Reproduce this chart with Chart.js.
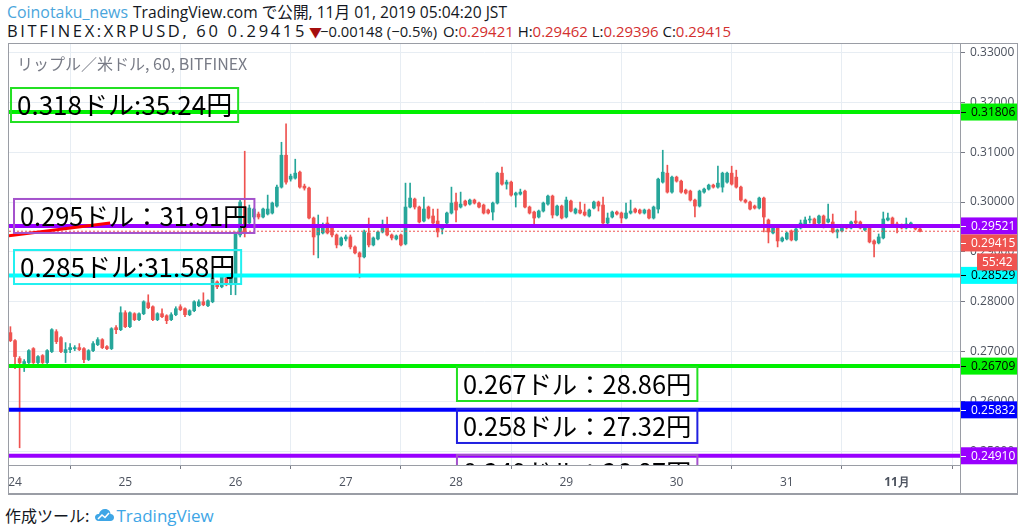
<!DOCTYPE html>
<html lang="ja">
<head>
<meta charset="utf-8">
<title>リップル／米ドル, 60, BITFINEX</title>
<script src="https://cdn.jsdelivr.net/npm/chart.js@4.4.1/dist/chart.umd.min.js"></script>
<style>
  html, body { margin: 0; padding: 0; background: #fff; }
  body { width: 1024px; height: 530px; position: relative; overflow: hidden;
         font-family: "Open Sans", "Noto Sans CJK JP", sans-serif; color: #131722; }
  .hd { position: absolute; white-space: nowrap; line-height: 18px; font-size: 15px; }
  .l1 { top: 3px; }
  .l2 { top: 22px; }
  .user { color: #4aa5dc; }
  .red { color: #d32f2f; }
  .dn { color: #a50e0e; font-size: 13px; top: 23px; }
  #frame { position: absolute; left: 8px; top: 43px; width: 1010px; height: 452px; box-sizing: border-box;
           border: 1px solid #9a9da5; border-bottom: 2px solid #9a9da5; }
  #box { position: relative; width: 1008px; height: 449px; }
  #sym { position: absolute; left: 17px; top: 51px; font-size: 16px; color: #787b86; z-index: 2;
         font-family: "Noto Sans CJK JP", sans-serif; }
  #foot { position: absolute; left: 5px; top: 503px; font-size: 16px; white-space: nowrap;
          font-family: "Noto Sans CJK JP", sans-serif; display: flex; align-items: center; }
  #foot .tv { color: #3ea6e6; font-size: 17px; font-family: "Open Sans", sans-serif; margin-left: 2px; }
  #foot svg { margin-left: 6px; }
</style>
</head>
<body>
<div class="hd l1 user fit" data-w="121" style="left:7px">Coinotaku_news</div>
<div class="hd l1 fit" data-w="374" style="left:133px">TradingView.com で公開, 11月 01, 2019 05:04:20 JST</div>
<div class="hd l2 fit" data-w="300" style="left:7px">BITFINEX:XRPUSD, 60 0.29415</div>
<div class="hd dn" style="left:309px">▼</div>
<div class="hd l2 fit" data-w="117" style="left:320px">−0.00148 (−0.5%)</div>
<div class="hd l2 fit" data-w="288" style="left:443px">O:<span class="red">0.29421</span> H:<span class="red">0.29462</span> L:<span class="red">0.29396</span> C:<span class="red">0.29415</span></div>
<div id="frame"><div id="box"><canvas id="chart"></canvas></div></div>
<div id="sym">リップル／米ドル, 60, BITFINEX</div>
<div id="foot">作成ツール:<svg width="19" height="14" viewBox="0 0 19 14"><path d="M4 13 C1 13 0 11 0 9 C0 7 2 5.5 4 6 C4.5 3 7 1 10 1 C13.5 1 15.5 3.5 15.5 6 C17.5 6 19 7.5 19 9.5 C19 11.5 17.5 13 15.5 13 Z" fill="#3ea6e6"/><path d="M3 11 L7 7 L10 9.5 L14 5" stroke="#fff" stroke-width="1.6" fill="none"/></svg><span class="tv">TradingView</span></div>
<script>
// 1時間足 (10/24 0時 = 0)、最初の足は 10/23 23時
var START_HOUR = -1;

// 日付目盛り
var dayTicks = [0, 24, 48, 72, 96, 120, 144, 168, 192];
var dayLabels = ["24", "25", "26", "27", "28", "29", "30", "31", "11月"];
var priceTicks = [0.25, 0.26, 0.27, 0.28, 0.29, 0.30, 0.31, 0.32, 0.33];

// ローソク足 (始値・高値・安値・終値)
var opens = [0.2738,
  0.2722,0.2686,0.2676,0.2678,0.2706,0.2678,0.2692,0.2678,0.2700,0.2740,0.2728,0.2698,0.2704,0.2706,0.2708,0.2706,0.2684,0.2702,0.2714,0.2724,0.2710,0.2706,0.2748,0.2744,
  0.2778,0.2750,0.2776,0.2764,0.2776,0.2798,0.2790,0.2764,0.2776,0.2772,0.2764,0.2774,0.2790,0.2786,0.2774,0.2782,0.2792,0.2800,0.2792,0.2800,0.2840,0.2830,0.2848,0.2834,
  0.2836,0.2934,0.2990,0.2958,0.2970,0.2976,0.2970,0.2976,0.2978,0.2992,0.3030,0.3094,0.3046,0.3048,0.3060,0.3032,0.3028,0.2968,0.2934,0.2938,0.2958,0.2950,0.2934,0.2914,
  0.2926,0.2930,0.2910,0.2898,0.2890,0.2938,0.2914,0.2926,0.2940,0.2950,0.2934,0.2926,0.2934,0.2916,0.2990,0.3006,0.2990,0.2962,0.2990,0.2972,0.2962,0.2946,0.2958,0.2978,
  0.3000,0.2990,0.3002,0.2996,0.3004,0.2998,0.2994,0.2984,0.2980,0.2998,0.3058,0.3036,0.3040,0.3014,0.3016,0.3022,0.2990,0.2980,0.2970,0.2982,0.2996,0.3012,0.2974,0.2992,
  0.2970,0.3002,0.2978,0.2984,0.2980,0.2972,0.2988,0.3000,0.2994,0.2958,0.2970,0.2980,0.2978,0.2968,0.2978,0.2986,0.2984,0.2978,0.2984,0.2968,0.2986,0.3040,0.3058,0.3020,
  0.3050,0.3042,0.3024,0.3022,0.3004,0.2992,0.3020,0.3026,0.3034,0.3030,0.3030,0.3040,0.3058,0.3050,0.3030,0.3004,0.3000,0.2992,0.2988,0.3008,0.2964,0.2938,0.2950,0.2922,
  0.2926,0.2942,0.2924,0.2948,0.2956,0.2964,0.2966,0.2958,0.2972,0.2960,0.2960,0.2940,0.2942,0.2950,0.2948,0.2962,0.2960,0.2944,0.2950,0.2922,0.2918,0.2928,0.2964,0.2968,
  0.2956,0.2954,0.2948,0.2950,0.2950,0.2946];
var highs = [0.2750,
  0.2724,0.2690,0.2684,0.2704,0.2708,0.2692,0.2694,0.2704,0.2746,0.2744,0.2730,0.2718,0.2716,0.2712,0.2716,0.2708,0.2704,0.2720,0.2728,0.2726,0.2712,0.2748,0.2752,0.2790,
  0.2782,0.2780,0.2778,0.2778,0.2802,0.2814,0.2792,0.2778,0.2786,0.2774,0.2778,0.2790,0.2794,0.2788,0.2784,0.2802,0.2804,0.2818,0.2804,0.2850,0.2842,0.2854,0.2850,0.2856,
  0.2940,0.3004,0.3102,0.2994,0.2988,0.2980,0.2988,0.3014,0.3000,0.3034,0.3120,0.3157,0.3056,0.3086,0.3062,0.3036,0.3030,0.2970,0.2974,0.2958,0.2970,0.2954,0.2936,0.2930,
  0.2934,0.2934,0.2912,0.2900,0.2944,0.2968,0.2930,0.2942,0.2964,0.2970,0.2936,0.2934,0.2936,0.3038,0.3038,0.3008,0.2992,0.3010,0.2992,0.2986,0.2986,0.2954,0.2980,0.3030,
  0.3018,0.3020,0.3004,0.3006,0.3006,0.3000,0.2996,0.2986,0.3000,0.3060,0.3070,0.3044,0.3042,0.3020,0.3026,0.3024,0.2992,0.2982,0.2984,0.3000,0.3014,0.3014,0.2994,0.2994,
  0.3010,0.3004,0.2988,0.3000,0.2996,0.2986,0.3002,0.3002,0.3010,0.2978,0.2982,0.2982,0.2980,0.2998,0.3004,0.2988,0.2986,0.2986,0.2986,0.2992,0.3048,0.3104,0.3074,0.3052,
  0.3052,0.3044,0.3026,0.3024,0.3006,0.3024,0.3028,0.3036,0.3036,0.3072,0.3060,0.3060,0.3072,0.3064,0.3032,0.3006,0.3002,0.2994,0.3010,0.3010,0.2966,0.2952,0.2952,0.2930,
  0.2940,0.2944,0.2948,0.2964,0.2970,0.2972,0.2968,0.2974,0.2974,0.2996,0.2976,0.2946,0.2952,0.2952,0.2962,0.2982,0.2962,0.2952,0.2952,0.2924,0.2936,0.2980,0.2978,0.2970,
  0.2960,0.2956,0.2968,0.2960,0.2952,0.2948];
var lows = [0.2720,
  0.2666,0.2507,0.2660,0.2676,0.2676,0.2676,0.2676,0.2676,0.2698,0.2716,0.2698,0.2678,0.2698,0.2702,0.2702,0.2678,0.2682,0.2700,0.2712,0.2706,0.2704,0.2704,0.2736,0.2742,
  0.2748,0.2748,0.2762,0.2762,0.2774,0.2786,0.2762,0.2762,0.2768,0.2756,0.2762,0.2772,0.2782,0.2770,0.2772,0.2780,0.2790,0.2792,0.2790,0.2798,0.2826,0.2828,0.2832,0.2814,
  0.2814,0.2930,0.2930,0.2954,0.2966,0.2966,0.2968,0.2974,0.2976,0.2990,0.3028,0.3036,0.3042,0.3046,0.3028,0.3024,0.2966,0.2894,0.2888,0.2936,0.2936,0.2930,0.2908,0.2912,
  0.2922,0.2906,0.2896,0.2848,0.2888,0.2910,0.2912,0.2924,0.2938,0.2932,0.2924,0.2924,0.2912,0.2914,0.2988,0.2986,0.2958,0.2960,0.2966,0.2956,0.2930,0.2936,0.2956,0.2976,
  0.2960,0.2988,0.2992,0.2994,0.2996,0.2988,0.2976,0.2976,0.2964,0.2996,0.3034,0.3026,0.3012,0.2990,0.3014,0.2988,0.2976,0.2950,0.2968,0.2980,0.2994,0.2968,0.2972,0.2966,
  0.2968,0.2980,0.2976,0.2976,0.2972,0.2970,0.2986,0.2982,0.2956,0.2956,0.2968,0.2974,0.2958,0.2966,0.2976,0.2978,0.2976,0.2976,0.2966,0.2966,0.2978,0.3038,0.3018,0.3018,
  0.3040,0.3018,0.3016,0.3002,0.2970,0.2990,0.3018,0.3024,0.3028,0.3028,0.3020,0.3038,0.3034,0.3028,0.3002,0.2998,0.2984,0.2986,0.2986,0.2940,0.2918,0.2936,0.2910,0.2920,
  0.2924,0.2922,0.2922,0.2946,0.2954,0.2958,0.2954,0.2956,0.2948,0.2958,0.2938,0.2928,0.2940,0.2946,0.2946,0.2956,0.2946,0.2942,0.2918,0.2890,0.2916,0.2926,0.2962,0.2952,
  0.2938,0.2946,0.2946,0.2948,0.2944,0.2940];
var closes = [0.2722,
  0.2690,0.2678,0.2680,0.2702,0.2678,0.2690,0.2678,0.2702,0.2744,0.2720,0.2700,0.2704,0.2708,0.2708,0.2704,0.2684,0.2702,0.2716,0.2724,0.2708,0.2706,0.2746,0.2744,0.2778,
  0.2750,0.2778,0.2764,0.2776,0.2800,0.2788,0.2764,0.2776,0.2770,0.2762,0.2774,0.2786,0.2784,0.2774,0.2782,0.2800,0.2800,0.2794,0.2802,0.2848,0.2830,0.2852,0.2834,0.2852,
  0.2938,0.3000,0.2940,0.2988,0.2986,0.2970,0.2986,0.2986,0.2998,0.3030,0.3094,0.3040,0.3052,0.3058,0.3030,0.3028,0.2968,0.2930,0.2948,0.2954,0.2938,0.2934,0.2914,0.2928,
  0.2930,0.2910,0.2898,0.2890,0.2940,0.2914,0.2928,0.2940,0.2952,0.2934,0.2928,0.2932,0.2914,0.2990,0.3008,0.2990,0.2960,0.2986,0.2968,0.2958,0.2940,0.2950,0.2978,0.2998,
  0.2984,0.2996,0.2994,0.3004,0.2998,0.2990,0.2978,0.2978,0.2998,0.3058,0.3036,0.3040,0.3014,0.3018,0.3020,0.2990,0.2978,0.2968,0.2982,0.2998,0.3012,0.2974,0.2992,0.2968,
  0.3004,0.2982,0.2986,0.2978,0.2974,0.2984,0.3000,0.2992,0.2958,0.2968,0.2980,0.2976,0.2968,0.2978,0.2982,0.2980,0.2978,0.2984,0.2968,0.2990,0.3046,0.3060,0.3020,0.3050,
  0.3042,0.3020,0.3018,0.3004,0.2992,0.3022,0.3026,0.3034,0.3030,0.3038,0.3058,0.3058,0.3036,0.3030,0.3004,0.3000,0.2986,0.2988,0.3008,0.2970,0.2940,0.2950,0.2922,0.2928,
  0.2938,0.2924,0.2946,0.2958,0.2964,0.2966,0.2956,0.2972,0.2950,0.2966,0.2940,0.2944,0.2950,0.2948,0.2960,0.2958,0.2948,0.2950,0.2920,0.2916,0.2930,0.2966,0.2968,0.2954,
  0.2950,0.2948,0.2956,0.2958,0.2946,0.29415];

var lastPrice = 0.29415;
var countdown = "55:42";

// 水平線
var levels = [0.31806, 0.29521, 0.28529, 0.26709, 0.25832, 0.24910];
var levelColors = ["#00f000", "#9900ff", "#00ffff", "#00f000", "#0000ff", "#9900ff"];
var levelTextColors = ["#000", "#fff", "#000", "#000", "#fff", "#fff"];

// トレンドライン (赤)
var trendHours = [-1.52, 20.7];
var trendPrices = [0.2932, 0.2958];

// テキストボックス (左上の時刻・価格)
var noteTexts = ["0.318ドル:35.24円", "0.295ドル：31.91円", "0.285ドル:31.58円",
                 "0.267ドル：28.86円", "0.258ドル：27.32円", "0.249ドル：26.87円"];
var noteHours = [-0.87, -0.22, -0.22, 96.2, 96.2, 96.2];
var notePrices = [0.32288, 0.30062, 0.29038, 0.26691, 0.25849, 0.24926];
var noteColors = ["#22e022", "#a452cc", "#22f0f0", "#22e022", "#2020e0", "#a452cc"];

var X_MIN = -1.31, X_MAX = 205.7, Y_MIN = 0.24725, Y_MAX = 0.33171;
var UP = "#26a69a", DOWN = "#ef5350", GRID = "#e7edf3", AXIS = "#9a9da5", TXT = "#4c525e";

// ヘッダー文字列を参照画像の幅に合わせる (まず文字サイズ、残りは字間)
function fitHeader() {
  document.querySelectorAll(".fit").forEach(function (el) {
    var target = +el.getAttribute("data-w");
    el.style.letterSpacing = "0px";
    el.style.fontSize = "15px";
    var w = el.getBoundingClientRect().width;
    var fs = Math.max(14, Math.min(16.5, 15 * target / w));
    el.style.fontSize = fs + "px";
    w = el.getBoundingClientRect().width;
    el.style.letterSpacing = ((target - w) / el.textContent.length) + "px";
  });
}
fitHeader();
if (document.fonts && document.fonts.ready) document.fonts.ready.then(fitHeader);

var candleColors = closes.map(function (c, i) { return c >= opens[i] ? UP : DOWN; });

function hline(val, color, width, dash, order) {
  return { type: "line", data: [{ x: X_MIN, y: val }, { x: X_MAX, y: val }],
    borderColor: color, borderWidth: width, borderDash: dash || [], pointRadius: 0, order: order };
}

var datasets = [
  { type: "bar", label: "wick", grouped: false, barThickness: 1, order: 6,
    data: opens.map(function (o, i) { return { x: START_HOUR + i, y: [lows[i], highs[i]] }; }),
    backgroundColor: candleColors, borderWidth: 0 },
  { type: "bar", label: "body", grouped: false, barThickness: 3, minBarLength: 1, order: 5,
    data: opens.map(function (o, i) { return { x: START_HOUR + i, y: [o, closes[i]] }; }),
    backgroundColor: candleColors, borderWidth: 0 },
  hline(lastPrice, DOWN, 1, [2, 2], 3),
  { type: "line", data: trendHours.map(function (h, i) { return { x: h, y: trendPrices[i] }; }),
    borderColor: "#ff0000", borderWidth: 3, pointRadius: 0, order: 1 }
];
levels.forEach(function (v, i) { datasets.push(hline(v, levelColors[i], 4, null, 2)); });

var overlay = {
  id: "overlay",
  afterDatasetsDraw: function (chart) {
    var ctx = chart.ctx, a = chart.chartArea, x = chart.scales.x, y = chart.scales.y;
    ctx.save();
    ctx.beginPath(); ctx.rect(a.left, a.top, a.right - a.left, a.bottom - a.top); ctx.clip();
    ctx.textBaseline = "middle";
    noteTexts.forEach(function (t, i) {
      // 全角コロンの行は少しだけ小さく
      ctx.font = (t.indexOf("：") >= 0 ? "25.4px" : "26px") + ' "Noto Sans CJK JP"';
      var px = x.getPixelForValue(noteHours[i]);
      var py = y.getPixelForValue(notePrices[i]);
      var w = ctx.measureText(t).width + 12;
      ctx.strokeStyle = noteColors[i]; ctx.lineWidth = 2;
      ctx.strokeRect(px, py, w, 34);
      ctx.fillStyle = "#000";
      ctx.fillText(t, px + 6, py + 17);
    });
    ctx.restore();
  },
  afterDraw: function (chart) {
    var ctx = chart.ctx, a = chart.chartArea, y = chart.scales.y, W = chart.width, H = chart.height;
    ctx.save();
    ctx.strokeStyle = AXIS; ctx.lineWidth = 1;
    ctx.beginPath(); ctx.moveTo(a.right + 0.5, a.top); ctx.lineTo(a.right + 0.5, H); ctx.stroke();
    ctx.font = '12px "Open Sans"';
    ctx.textBaseline = "middle";
    function tag(cy, x0, bg, fg, text, dash) {
      ctx.fillStyle = bg;
      ctx.fillRect(x0, cy - 8.5, W - x0, 17);
      if (dash) {
        ctx.strokeStyle = fg; ctx.beginPath();
        ctx.moveTo(a.right + 1, Math.round(cy) + 0.5); ctx.lineTo(a.right + 6, Math.round(cy) + 0.5); ctx.stroke();
      }
      ctx.fillStyle = fg;
      ctx.fillText(text, x0 + (dash ? 10 : 5), cy + 0.5);
    }
    var tagYs = [];
    levels.forEach(function (v, i) {
      var cy = y.getPixelForValue(v);
      tagYs.push(cy);
      tag(cy, a.right + 1, levelColors[i], levelTextColors[i], v.toFixed(5), true);
    });
    var py = y.getPixelForValue(lastPrice);
    tagYs.forEach(function (t) { if (Math.abs(t - py) < 17) py = t + 17; });
    tag(py, a.right + 1, DOWN, "#fff", lastPrice.toFixed(5), true);
    tag(py + 19, a.right + 17, DOWN, "#fff", countdown, false);
    ctx.restore();
  }
};

new Chart(document.getElementById("chart"), {
  type: "bar",
  data: { datasets: datasets },
  options: {
    responsive: true, maintainAspectRatio: false, animation: false,
    layout: { padding: 0 },
    plugins: { legend: { display: false }, tooltip: { enabled: false } },
    scales: {
      x: {
        type: "linear", min: X_MIN, max: X_MAX, offset: false,
        grid: { color: GRID, tickColor: "#787b86", tickLength: 4 },
        border: { color: AXIS },
        ticks: {
          color: TXT, padding: 6, maxRotation: 0, autoSkip: false,
          font: function (c) { return { family: "Open Sans", size: 12, weight: dayLabels[c.index] === "11月" ? "bold" : "normal" }; },
          callback: function (v, i) { return dayLabels[i]; }
        },
        afterBuildTicks: function (s) { s.ticks = dayTicks.map(function (v) { return { value: v }; }); },
        afterFit: function (s) { s.height = 28; s.paddingLeft = 0; s.paddingRight = 0; }
      },
      y: {
        type: "linear", position: "right", min: Y_MIN, max: Y_MAX,
        grid: { color: GRID, tickColor: "#787b86", tickLength: 5 },
        border: { color: AXIS },
        ticks: { color: TXT, padding: 5, font: { family: "Open Sans", size: 12 },
          callback: function (v) { return v.toFixed(5); } },
        afterBuildTicks: function (s) { s.ticks = priceTicks.map(function (v) { return { value: v }; }); },
        afterFit: function (s) { s.width = 57; s.paddingTop = 0; s.paddingBottom = 0; }
      }
    }
  },
  plugins: [overlay]
});
</script>
</body>
</html>
